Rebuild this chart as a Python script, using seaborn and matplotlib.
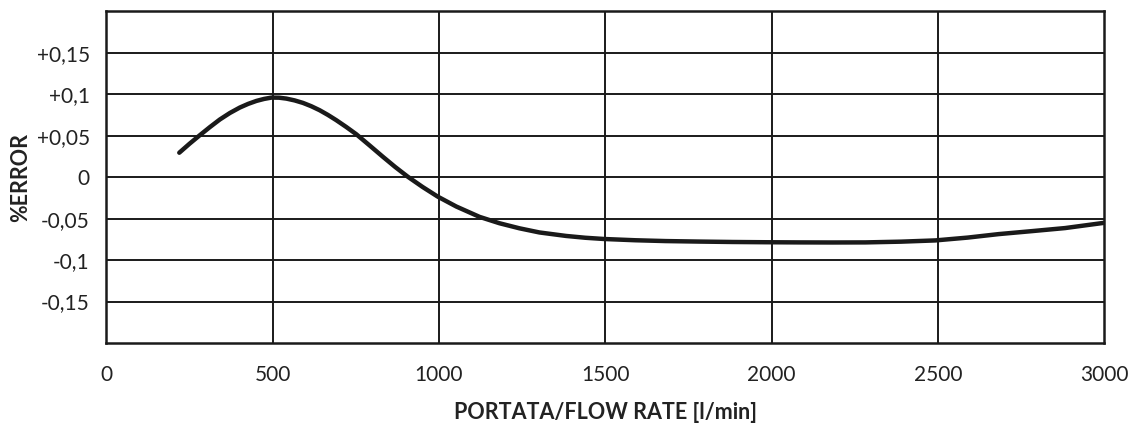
import matplotlib
matplotlib.use("Agg")
import matplotlib.pyplot as plt
import seaborn as sns
import pandas as pd

flow = [219, 250, 281, 311, 341, 371, 401, 426, 451, 474, 496, 519, 541, 566, 591, 616, 641, 666,
        691, 721, 751, 791, 831, 868, 906, 951, 996, 1052, 1122, 1182, 1242, 1302, 1382, 1440, 1497,
        1590, 1682, 1782, 1882, 1983, 2083, 2183, 2283, 2390, 2493, 2590, 2683, 2783, 2883, 3000]
error = [0.0296, 0.0405, 0.0508, 0.0605, 0.0697, 0.0775, 0.0841, 0.0885, 0.0921, 0.0945, 0.0961, 0.0960, 0.0949, 0.0927, 0.0897, 0.0857, 0.0809, 0.0752,
         0.0689, 0.0607, 0.0520, 0.0385, 0.0248, 0.0125, 0.0007, -0.0118, -0.0233, -0.0353, -0.0478, -0.0555, -0.0616, -0.0666, -0.0708, -0.0730, -0.0745,
         -0.0760, -0.0770, -0.0776, -0.0781, -0.0784, -0.0786, -0.0787, -0.0786, -0.0777, -0.0762, -0.0728, -0.0686, -0.0650, -0.0613, -0.0550]

xticks = [0, 500, 1000, 1500, 2000, 2500, 3000]
xticklabels = ["0", "500", "1000", "1500", "2000", "2500", "3000"]
yticks = [0.15, 0.1, 0.05, 0, -0.05, -0.1, -0.15]
yticklabels = ["+0,15", "+0,1", "+0,05", "0", "-0,05", "-0,1", "-0,15"]

sns.set_theme(style="white")
plt.rcParams["font.family"] = ["Lato", "DejaVu Sans"]

df = pd.DataFrame({"flow": flow, "error": error})

fig = plt.figure(figsize=(11.41, 4.24), dpi=100)
ax = fig.add_axes([0.0933, 0.191, 0.8743, 0.7819])

sns.lineplot(data=df, x="flow", y="error", ax=ax, color="#1a1a1a", linewidth=3.2, zorder=3)

ax.set_xlim(0, 3000)
ax.set_ylim(-0.2, 0.2)
ax.set_xticks(xticks)
ax.set_xticklabels(xticklabels, fontsize=15, color="#222222")
ax.set_yticks(yticks)
ax.set_yticklabels(yticklabels, fontsize=15, color="#222222")
ax.tick_params(axis="x", length=0, pad=16)
ax.tick_params(axis="y", length=0, pad=12)

for v in xticks[1:-1]:
    ax.axvline(v, color="#1a1a1a", linewidth=1.4, zorder=1)
for v in yticks:
    ax.axhline(v, color="#1a1a1a", linewidth=1.4, zorder=1)

for s in ax.spines.values():
    s.set_visible(True)
    s.set_color("#1a1a1a")
    s.set_linewidth(1.8)

ax.set_xlabel("PORTATA/FLOW RATE [l/min]", fontsize=15.5, fontweight="bold", color="#222222", labelpad=12)
ax.set_ylabel("%ERROR", fontsize=15.5, fontweight="bold", color="#222222", labelpad=4)

fig.savefig("out.png", dpi=100, facecolor="white")
